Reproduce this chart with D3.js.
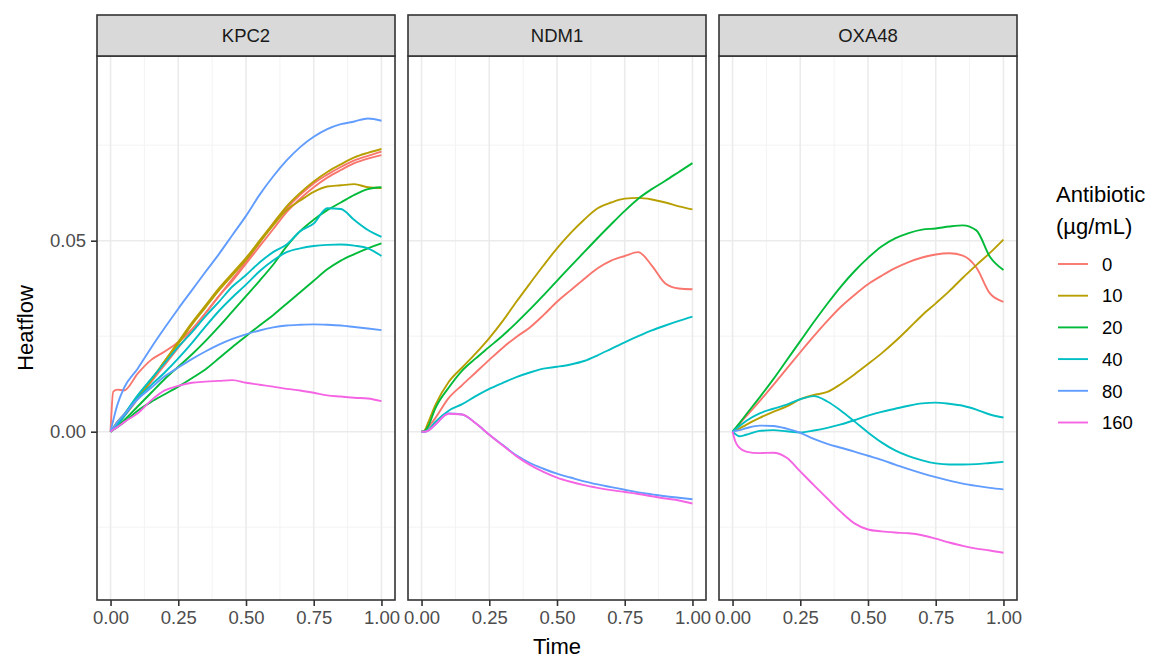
<!DOCTYPE html>
<html>
<head>
<meta charset="utf-8">
<script src="https://cdn.jsdelivr.net/npm/d3@7"></script>
<style>
  body { margin: 0; background: #fff; }
  svg { font-family: "Liberation Sans", Arial, sans-serif; }
</style>
</head>
<body>
<div id="chart"></div>
<script>
// facets and legend levels
const panels = ["KPC2", "NDM1", "OXA48"];
const doses = ["0", "10", "20", "40", "80", "160"];
const doseColors = ["#F8766D", "#B79F00", "#00BA38", "#00BFC4", "#619CFF", "#F564E3"];

// x positions shared by every curve
const timeGrid = [0, 0.01, 0.025, 0.05, 0.1, 0.15, 0.2, 0.25, 0.3, 0.35, 0.4, 0.45, 0.5, 0.55, 0.6, 0.65, 0.7, 0.75, 0.8, 0.85, 0.9, 0.95, 1.0];

const xTicks = [0, 0.25, 0.5, 0.75, 1];
const xMinor = [0.125, 0.375, 0.625, 0.875];
const yTicks = [0, 0.05];
const yMinor = [-0.025, 0.025, 0.075];

// KPC2 replicates
const kpc2_0a = [0, 0.0105, 0.011, 0.0108, 0.0152, 0.0188, 0.021, 0.0235, 0.0268, 0.031, 0.0355, 0.040, 0.0445, 0.0495, 0.0545, 0.0585, 0.062, 0.065, 0.0673, 0.0693, 0.071, 0.0722, 0.0733];
const kpc2_0b = [0, 0.001, 0.002, 0.004, 0.0085, 0.013, 0.0175, 0.022, 0.0265, 0.031, 0.0355, 0.0395, 0.044, 0.0485, 0.053, 0.0575, 0.061, 0.064, 0.0665, 0.0685, 0.0703, 0.0715, 0.0724];
const kpc2_10a = [0, 0.001, 0.0025, 0.0045, 0.009, 0.0135, 0.0185, 0.0235, 0.0285, 0.033, 0.0375, 0.0415, 0.0455, 0.050, 0.0545, 0.059, 0.0625, 0.0655, 0.068, 0.070, 0.0718, 0.073, 0.074];
const kpc2_10b = [0, 0.001, 0.0025, 0.0045, 0.009, 0.0135, 0.0185, 0.023, 0.028, 0.0325, 0.037, 0.041, 0.045, 0.0495, 0.054, 0.058, 0.0605, 0.0628, 0.0642, 0.0645, 0.0648, 0.064, 0.0638];
const kpc2_20a = [0, 0.0005, 0.0015, 0.003, 0.0066, 0.0102, 0.0138, 0.017, 0.0202, 0.0237, 0.0275, 0.0315, 0.0355, 0.0395, 0.0437, 0.0485, 0.0525, 0.0555, 0.058, 0.060, 0.062, 0.0635, 0.064];
const kpc2_20b = [0, 0.0005, 0.0012, 0.0025, 0.0055, 0.0078, 0.0098, 0.0118, 0.014, 0.0163, 0.0192, 0.0222, 0.025, 0.0278, 0.0305, 0.0335, 0.0365, 0.0395, 0.0425, 0.0448, 0.0465, 0.048, 0.0493];
const kpc2_40a = [0, 0.0008, 0.002, 0.0045, 0.0095, 0.0138, 0.018, 0.0222, 0.026, 0.0302, 0.034, 0.038, 0.041, 0.0443, 0.047, 0.049, 0.0525, 0.0545, 0.0585, 0.0583, 0.0554, 0.0528, 0.051];
const kpc2_40b = [0, 0.0007, 0.0018, 0.004, 0.0087, 0.0122, 0.0155, 0.0192, 0.0232, 0.0275, 0.0316, 0.0352, 0.0385, 0.042, 0.0448, 0.047, 0.048, 0.0486, 0.0489, 0.049, 0.0487, 0.048, 0.046];
const kpc2_80a = [0, 0.003, 0.007, 0.0115, 0.0165, 0.022, 0.0272, 0.0322, 0.037, 0.0418, 0.0465, 0.0515, 0.0565, 0.062, 0.0668, 0.071, 0.0745, 0.0772, 0.0792, 0.0805, 0.0812, 0.082, 0.0814];
const kpc2_80b = [0, 0.001, 0.0025, 0.0045, 0.0085, 0.0115, 0.0145, 0.0168, 0.019, 0.021, 0.0228, 0.0243, 0.0255, 0.0265, 0.0273, 0.0278, 0.028, 0.0281, 0.028, 0.0278, 0.0274, 0.027, 0.0266];
const kpc2_160 = [0, 0.0005, 0.0012, 0.0025, 0.0048, 0.0082, 0.0108, 0.012, 0.0128, 0.0131, 0.0133, 0.0135, 0.0128, 0.0123, 0.0118, 0.0112, 0.0108, 0.0102, 0.0095, 0.0092, 0.0089, 0.0087, 0.008];

// NDM1
const ndm1_0 = [0, 0.0002, 0.0012, 0.0035, 0.0088, 0.0122, 0.0155, 0.0188, 0.022, 0.0248, 0.0273, 0.0305, 0.034, 0.037, 0.040, 0.0428, 0.0448, 0.046, 0.047, 0.0435, 0.0388, 0.0375, 0.0373];
const ndm1_10 = [0, 0.0002, 0.0025, 0.0068, 0.013, 0.0168, 0.0205, 0.0245, 0.029, 0.034, 0.0388, 0.0435, 0.048, 0.052, 0.0555, 0.0585, 0.060, 0.061, 0.0612, 0.0608, 0.060, 0.059, 0.0582];
const ndm1_20 = [0, 0.0001, 0.0015, 0.006, 0.0115, 0.016, 0.0192, 0.0222, 0.0252, 0.0285, 0.032, 0.0357, 0.0395, 0.0433, 0.047, 0.0507, 0.0543, 0.0578, 0.061, 0.0635, 0.0657, 0.068, 0.0703];
const ndm1_40 = [0, 0, 0.0005, 0.0025, 0.0055, 0.0072, 0.0093, 0.0112, 0.0128, 0.0143, 0.0155, 0.0165, 0.017, 0.0176, 0.0185, 0.020, 0.0217, 0.0234, 0.025, 0.0265, 0.0278, 0.029, 0.0301];
const ndm1_80 = [0, 0, 0.0003, 0.0018, 0.0048, 0.0045, 0.0022, -0.0008, -0.0035, -0.0062, -0.0082, -0.0097, -0.011, -0.012, -0.013, -0.0138, -0.0145, -0.0152, -0.0159, -0.0164, -0.0169, -0.0173, -0.0177];
const ndm1_160 = [0, 0, 0.0003, 0.0018, 0.0047, 0.0045, 0.0022, -0.0008, -0.0036, -0.0064, -0.0087, -0.0105, -0.012, -0.0131, -0.014, -0.0147, -0.0153, -0.0158, -0.0163, -0.0169, -0.0175, -0.018, -0.0188];

// OXA48
const oxa48_0 = [0, 0.0008, 0.002, 0.004, 0.008, 0.0122, 0.0165, 0.0208, 0.025, 0.029, 0.0327, 0.0358, 0.0386, 0.0408, 0.0428, 0.0444, 0.0456, 0.0464, 0.0467, 0.0461, 0.043, 0.0362, 0.034];
const oxa48_10 = [0, 0.0003, 0.0008, 0.0018, 0.0036, 0.0052, 0.0066, 0.0085, 0.0096, 0.0104, 0.0125, 0.015, 0.0177, 0.0205, 0.0236, 0.027, 0.0305, 0.0336, 0.0368, 0.0403, 0.0436, 0.0468, 0.0503];
const oxa48_20 = [0, 0.0009, 0.0022, 0.0045, 0.009, 0.0137, 0.0187, 0.0237, 0.0287, 0.0335, 0.038, 0.042, 0.0455, 0.0485, 0.0506, 0.052, 0.0529, 0.0532, 0.0537, 0.054, 0.0527, 0.0458, 0.0423];
const oxa48_40a = [0, 0.0006, 0.0014, 0.0028, 0.0048, 0.006, 0.0071, 0.0085, 0.0093, 0.0079, 0.0055, 0.0027, -0.0002, -0.0028, -0.0049, -0.0064, -0.0075, -0.0083, -0.0086, -0.0086, -0.0085, -0.0082, -0.0079];
const oxa48_40b = [0, -0.0006, -0.0012, -0.0008, 0.0002, 0.0004, 0.0001, -0.0002, 0.0003, 0.001, 0.0019, 0.003, 0.0042, 0.0052, 0.006, 0.0068, 0.0074, 0.0076, 0.0073, 0.0068, 0.0058, 0.0045, 0.0037];
const oxa48_80 = [0, 0.0002, 0.0004, 0.0009, 0.0016, 0.0015, 0.0008, -0.0003, -0.0019, -0.0032, -0.0042, -0.0052, -0.0063, -0.0074, -0.0086, -0.0098, -0.0109, -0.0119, -0.0128, -0.0136, -0.0142, -0.0147, -0.0151];
const oxa48_160 = [0, -0.0025, -0.0042, -0.0052, -0.0056, -0.0055, -0.0068, -0.0104, -0.014, -0.0175, -0.021, -0.024, -0.0256, -0.0261, -0.0264, -0.0266, -0.0271, -0.028, -0.029, -0.0299, -0.0306, -0.0311, -0.0317];

const series = [
    { panel: "KPC2", dose: "0", values: kpc2_0a },
    { panel: "KPC2", dose: "0", values: kpc2_0b },
    { panel: "KPC2", dose: "10", values: kpc2_10a },
    { panel: "KPC2", dose: "10", values: kpc2_10b },
    { panel: "KPC2", dose: "20", values: kpc2_20a },
    { panel: "KPC2", dose: "20", values: kpc2_20b },
    { panel: "KPC2", dose: "40", values: kpc2_40a },
    { panel: "KPC2", dose: "40", values: kpc2_40b },
    { panel: "KPC2", dose: "80", values: kpc2_80a },
    { panel: "KPC2", dose: "80", values: kpc2_80b },
    { panel: "KPC2", dose: "160", values: kpc2_160 },
    { panel: "NDM1", dose: "0", values: ndm1_0 },
    { panel: "NDM1", dose: "10", values: ndm1_10 },
    { panel: "NDM1", dose: "20", values: ndm1_20 },
    { panel: "NDM1", dose: "40", values: ndm1_40 },
    { panel: "NDM1", dose: "80", values: ndm1_80 },
    { panel: "NDM1", dose: "160", values: ndm1_160 },
    { panel: "OXA48", dose: "0", values: oxa48_0 },
    { panel: "OXA48", dose: "10", values: oxa48_10 },
    { panel: "OXA48", dose: "20", values: oxa48_20 },
    { panel: "OXA48", dose: "40", values: oxa48_40a },
    { panel: "OXA48", dose: "40", values: oxa48_40b },
    { panel: "OXA48", dose: "80", values: oxa48_80 },
    { panel: "OXA48", dose: "160", values: oxa48_160 }
];

const W = 1153, H = 660;
const panelLeft = 97, panelStep = 311, panelW = 298;
const stripTop = 15, stripH = 41;
const plotTop = stripTop + stripH, plotH = 544;

const svg = d3.select("#chart").append("svg")
    .attr("width", W)
    .attr("height", H);

const x = d3.scaleLinear().domain([-0.05, 1.05]).range([0, panelW]);
const y = d3.scaleLinear().domain([-0.04406, 0.09835]).range([plotH, 0]);
const color = d3.scaleOrdinal().domain(doses).range(doseColors);

const line = d3.line()
    .x((d, i) => x(timeGrid[i]))
    .y(d => y(d))
    .curve(d3.curveMonotoneX);

panels.forEach((p, pi) => {
    const g = svg.append("g")
        .attr("transform", `translate(${panelLeft + pi * panelStep},${plotTop})`);

    // grid
    g.selectAll(".ymin").data(yMinor).enter().append("line")
        .attr("x1", 0).attr("x2", panelW)
        .attr("y1", d => y(d)).attr("y2", d => y(d))
        .attr("stroke", "#f2f2f2").attr("stroke-width", 0.9);
    g.selectAll(".xmin").data(xMinor).enter().append("line")
        .attr("y1", 0).attr("y2", plotH)
        .attr("x1", d => x(d)).attr("x2", d => x(d))
        .attr("stroke", "#f2f2f2").attr("stroke-width", 0.9);
    g.selectAll(".ymaj").data(yTicks).enter().append("line")
        .attr("x1", 0).attr("x2", panelW)
        .attr("y1", d => y(d)).attr("y2", d => y(d))
        .attr("stroke", "#ebebeb").attr("stroke-width", 1.6);
    g.selectAll(".xmaj").data(xTicks).enter().append("line")
        .attr("y1", 0).attr("y2", plotH)
        .attr("x1", d => x(d)).attr("x2", d => x(d))
        .attr("stroke", "#ebebeb").attr("stroke-width", 1.6);

    // curves
    g.selectAll(".curve")
        .data(series.filter(s => s.panel === p))
        .enter().append("path")
        .attr("fill", "none")
        .attr("stroke", d => color(d.dose))
        .attr("stroke-width", 1.9)
        .attr("d", d => line(d.values));

    // border
    g.append("rect")
        .attr("width", panelW).attr("height", plotH)
        .attr("fill", "none").attr("stroke", "#333333").attr("stroke-width", 1.6);

    // strip
    g.append("rect")
        .attr("y", -stripH).attr("width", panelW).attr("height", stripH)
        .attr("fill", "#d9d9d9").attr("stroke", "#333333").attr("stroke-width", 1.6);
    g.append("text")
        .attr("x", panelW / 2).attr("y", -stripH / 2 + 6.5)
        .attr("text-anchor", "middle")
        .attr("font-size", "18.5px").attr("fill", "#1a1a1a")
        .text(p);

    // x axis
    const xAxis = d3.axisBottom(x).tickValues(xTicks)
        .tickFormat(d3.format(".2f")).tickSize(6).tickPadding(5);
    const ax = g.append("g").attr("transform", `translate(0,${plotH})`).call(xAxis);
    ax.select(".domain").remove();
    ax.selectAll(".tick line").attr("stroke", "#333333").attr("stroke-width", 1.6);
    ax.selectAll(".tick text").attr("font-size", "18.5px").attr("fill", "#4d4d4d")
        .attr("font-family", "Liberation Sans, Arial, sans-serif");

    if (pi === 0) {
        const yAxis = d3.axisLeft(y).tickValues(yTicks)
            .tickFormat(d3.format(".2f")).tickSize(6).tickPadding(5);
        const ay = g.append("g").call(yAxis);
        ay.select(".domain").remove();
        ay.selectAll(".tick line").attr("stroke", "#333333").attr("stroke-width", 1.6);
        ay.selectAll(".tick text").attr("font-size", "18.5px").attr("fill", "#4d4d4d")
            .attr("font-family", "Liberation Sans, Arial, sans-serif");
    }
});

// axis titles
const mid = panelLeft + (2 * panelStep + panelW) / 2;
svg.append("text")
    .attr("x", mid).attr("y", 654)
    .attr("text-anchor", "middle")
    .attr("font-size", "22px").attr("fill", "#000")
    .text("Time");
svg.append("text")
    .attr("transform", `translate(33,${plotTop + plotH / 2}) rotate(-90)`)
    .attr("text-anchor", "middle")
    .attr("font-size", "22px").attr("fill", "#000")
    .text("Heatflow");

// legend
const legend = svg.append("g").attr("transform", "translate(1056,0)");
legend.append("text").attr("x", 0).attr("y", 202)
    .attr("font-size", "22px").attr("fill", "#000").text("Antibiotic");
legend.append("text").attr("x", 0).attr("y", 234)
    .attr("font-size", "22px").attr("fill", "#000").text("(µg/mL)");

const keys = legend.selectAll(".key").data(doses).enter().append("g")
    .attr("transform", (d, i) => `translate(0,${264 + i * 31.7})`);
keys.append("line")
    .attr("x1", 2).attr("x2", 32)
    .attr("stroke", d => color(d)).attr("stroke-width", 1.9);
keys.append("text")
    .attr("x", 46).attr("y", 6.7)
    .attr("font-size", "18.5px").attr("fill", "#000")
    .text(d => d);
</script>
</body>
</html>
